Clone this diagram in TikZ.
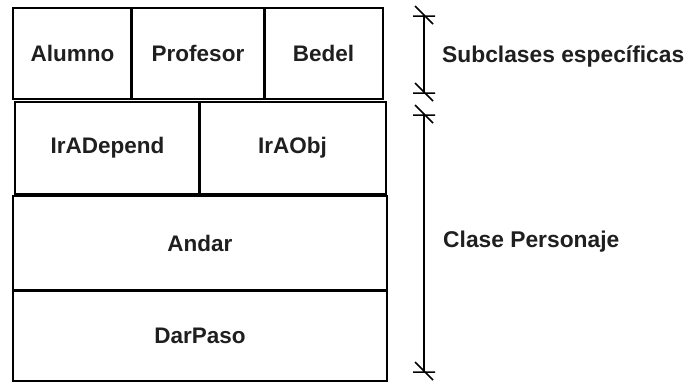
\documentclass[tikz,border=0pt]{standalone}
\usepackage{fontspec}
\setmainfont{Liberation Sans}
\begin{document}
\begin{tikzpicture}[x=1pt,y=-1pt,
  box/.style={draw=black, line width=2.6pt, rectangle, inner sep=0pt,
    font=\fontsize{22.5}{26}\selectfont\bfseries, text=black!88},
  lbl/.style={anchor=west, inner sep=0pt, font=\fontsize{22.8}{26}\selectfont\bfseries, text=black!88},
  bracket/.style={draw=black, line width=1.5pt},
  tick/.style={draw=black, line width=1.5pt}]
\useasboundingbox (0,0) rectangle (688,383);
% row 1
\node[box, minimum width=119pt, minimum height=91pt] (alumno) at (72.5,53.5) {Alumno};
\node[box, minimum width=133pt, minimum height=91pt] (profesor) at (198,53.5) {Profesor};
\node[box, minimum width=119pt, minimum height=91pt] (bedel) at (323.5,53.5) {Bedel};
% row 2
\node[box, minimum width=185pt, minimum height=92pt] (irad) at (107.5,148) {IrADepend};
\node[box, minimum width=187pt, minimum height=92pt] (irao) at (292.5,148) {IrAObj};
% row 3 and 4
\node[box, minimum width=374pt, minimum height=95pt] (andar) at (200,243.5) {Andar};
\node[box, minimum width=374pt, minimum height=91pt] (darpaso) at (200,335.5) {DarPaso};
% brackets
\coordinate (t1) at (424,15);
\coordinate (t2) at (424,92);
\coordinate (t3) at (424,114);
\coordinate (t4) at (424,371);
\draw[bracket] (t1) -- (t2);
\draw[bracket] (t3) -- (t4);
\foreach \c in {t1,t2,t3,t4}{
  \draw[tick, shift={(\c)}] (-11,1) -- (11,1) (-9,-9) -- (9,9);
}
\node[lbl] (sub) at (442,57) {Subclases específicas};
\node[lbl] (clase) at (443,242) {Clase Personaje};
\end{tikzpicture}
\end{document}
